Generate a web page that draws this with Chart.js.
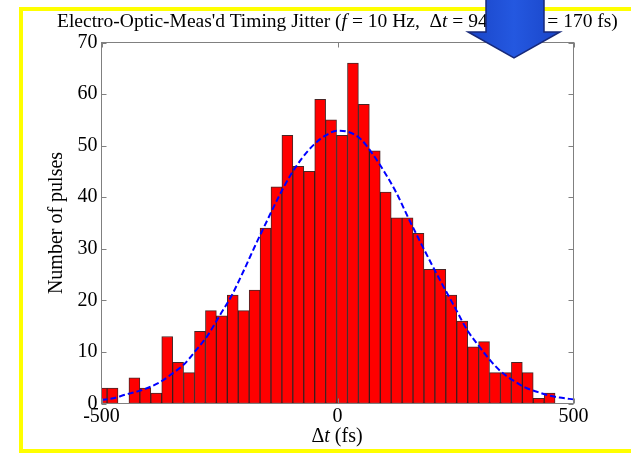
<!DOCTYPE html>
<html>
<head>
<meta charset="utf-8">
<script src="https://cdn.jsdelivr.net/npm/chart.js@4.4.1/dist/chart.umd.min.js"></script>
<style>
html,body{margin:0;padding:0;background:#fff;width:631px;height:458px;overflow:hidden;}
#frame{position:absolute;left:19px;top:7px;width:700px;height:446px;box-sizing:border-box;border:4px solid #ffff00;background:#fff;z-index:0}
#c{position:absolute;left:0;top:0;z-index:1}
.txt{position:absolute;font-family:"Liberation Serif","Times New Roman",serif;color:#000;white-space:nowrap;z-index:2}
#title{left:57px;top:10px;width:570px;height:30px;font-size:19.5px;line-height:22px}
#title .b{position:absolute;left:471px;top:0}
#title sub{font-size:14px;vertical-align:-7px;line-height:0}
#xlab{left:287px;width:100px;text-align:center;top:424px;font-size:20px;line-height:22px}
#arrow{position:absolute;left:0;top:0;z-index:3;pointer-events:none}
</style>
</head>
<body>
<div id="frame"></div>
<canvas id="c" width="631" height="458"></canvas>
<div id="title" class="txt"><span class="a">Electro-Optic-Meas'd Timing Jitter (<i>f</i> = 10 Hz,&nbsp; Δ<i>t</i> = 94 fs,</span> <span class="b">σ<sub><i>t</i></sub> = 170 fs)</span></div>
<div id="xlab" class="txt">Δ<i>t</i> (fs)</div>
<svg id="arrow" width="631" height="458">
  <defs>
    <linearGradient id="g" x1="0" x2="1" y1="0" y2="0">
      <stop offset="0" stop-color="#1a45c8"/>
      <stop offset="0.5" stop-color="#2458e0"/>
      <stop offset="1" stop-color="#1a45c8"/>
    </linearGradient>
  </defs>
  <polygon points="486,-3 544,-3 544,32 560,32 514,58 468,32 486,32" fill="url(#g)" stroke="#17297a" stroke-width="1.5"/>
</svg>
<script>
// Histogram bin centres (fs) and counts
const binCenters = [-499.7,-476.6,-453.4,-430.3,-407.1,-384.0,-360.8,-337.7,-314.5,-291.4,
  -268.2,-245.1,-221.9,-198.8,-175.6,-152.5,-129.3,-106.2,-83.0,-59.9,
  -36.7,-13.6,9.6,32.7,55.9,79.0,102.2,125.3,148.5,171.6,
  194.8,217.9,241.1,264.2,287.4,310.5,333.7,356.8,380.0,403.1,426.3,449.4];
const counts = [3,3,0,5,3,2,13,8,6,14,
  18,17,21,18,22,34,42,52,46,45,
  59,55,52,66,58,49,41,36,36,33,
  26,26,21,16,11,12,6,6,8,6,1,2];
// Dashed fit curve
const fitX = [-500,-475,-450,-425,-400,-375,-350,-325,-300,-275,-250,-225,-200,-175,-150,-125,-100,-75,-50,-25,
  0,25,50,75,100,125,150,175,200,225,250,275,300,325,350,375,400,425,450,475,500];
const fitY = [0.7,1.0,1.7,2.3,3.1,4.2,5.8,7.6,10.3,13.2,17.0,20.8,25.5,30.5,35.3,40.0,44.2,47.6,50.2,52.0,
  52.9,52.6,51.2,48.3,44.8,40.8,36.0,31.4,26.9,22.6,18.4,14.2,11.1,8.2,5.9,4.3,3.0,2.2,1.5,1.1,0.8];
const xTicks = [-500,0,500];
const yTicks = [0,10,20,30,40,50,60,70];

const FONT = '"Liberation Serif","Times New Roman",serif';

const boxPlugin = {
  id: 'box',
  afterDatasetsDraw(chart) {
    const {ctx, chartArea: a, scales: {x, y}} = chart;
    ctx.save();
    ctx.strokeStyle = '#808080';
    ctx.lineWidth = 1;
    ctx.strokeRect(a.left, a.top, a.right - a.left, a.bottom - a.top);
    ctx.beginPath();
    y.ticks.forEach(t => {
      const py = Math.round(y.getPixelForValue(t.value)) + 0.5;
      ctx.moveTo(a.left, py); ctx.lineTo(a.left + 5, py);
      ctx.moveTo(a.right, py); ctx.lineTo(a.right - 5, py);
    });
    x.ticks.forEach(t => {
      const px = Math.round(x.getPixelForValue(t.value)) + 0.5;
      ctx.moveTo(px, a.bottom); ctx.lineTo(px, a.bottom - 5);
      ctx.moveTo(px, a.top); ctx.lineTo(px, a.top + 5);
    });
    ctx.stroke();
    ctx.restore();
  }
};

new Chart(document.getElementById('c'), {
  data: {
    datasets: [
      {
        type: 'line',
        order: 0,
        data: fitX.map((v, i) => ({x: v, y: fitY[i]})),
        borderColor: '#0000ff',
        borderWidth: 2,
        borderDash: [6, 3],
        pointRadius: 0,
        fill: false,
        cubicInterpolationMode: 'monotone',
        clip: 2
      },
      {
        type: 'bar',
        order: 1,
        data: binCenters.map((v, i) => ({x: v, y: counts[i]})),
        backgroundColor: '#ff0000',
        borderColor: 'rgba(40,0,0,0.85)',
        borderWidth: 1,
        borderSkipped: false,
        barPercentage: 1,
        categoryPercentage: 1,
        clip: 0
      }
    ]
  },
  options: {
    responsive: false,
    animation: false,
    devicePixelRatio: 1,
    layout: {padding: {left: 0, top: 42.5, right: 57.5, bottom: 0}},
    plugins: {legend: {display: false}, tooltip: {enabled: false}, title: {display: false}},
    scales: {
      x: {
        type: 'linear',
        min: -500, max: 500,
        offset: false,
        grid: {display: false, drawTicks: false},
        border: {display: false},
        afterBuildTicks: s => { s.ticks = xTicks.map(v => ({value: v})); },
        afterFit: s => { s.height = 54.5; },
        ticks: {font: {family: FONT, size: 20}, color: '#000', padding: 1, maxRotation: 0,
          callback: v => String(v)}
      },
      y: {
        type: 'linear',
        min: 0, max: 70,
        grid: {display: false, drawTicks: false},
        border: {display: false},
        afterBuildTicks: s => { s.ticks = yTicks.map(v => ({value: v})); },
        afterFit: s => { s.width = 101.5; },
        ticks: {font: {family: FONT, size: 20}, color: '#000', padding: 4,
          callback: v => String(v)},
        title: {display: true, text: 'Number of pulses', color: '#000',
          font: {family: FONT, size: 20}, padding: {top: 45, bottom: 0}}
      }
    }
  },
  plugins: [boxPlugin]
});
</script>
</body>
</html>
